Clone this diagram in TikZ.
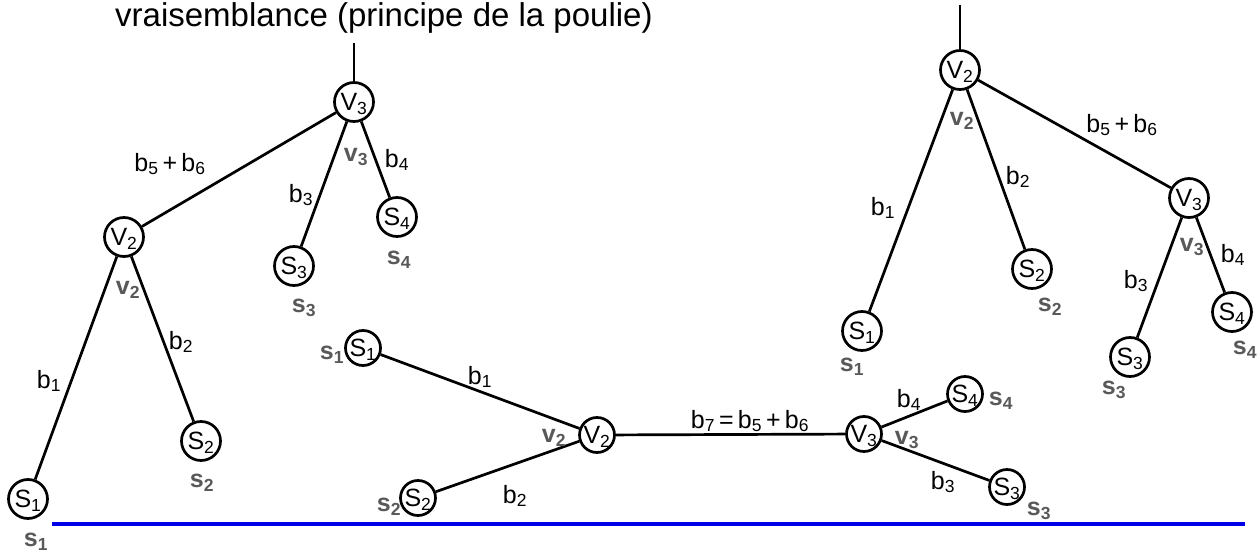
\documentclass[tikz,border=0pt]{standalone}
\usepackage{fontspec}
\setmainfont{Liberation Sans}
\definecolor{lblgray}{RGB}{89,89,89}
\definecolor{rulblue}{RGB}{0,0,230}

\begin{document}
\begin{tikzpicture}[x=1pt, y=-1pt,
        vertex/.style={circle, draw, line width=2.7pt, minimum size=39pt,
                       inner sep=0pt, text depth=0pt, font=\fontsize{25}{30}\selectfont},
        lowvx/.style={vertex, minimum size=35pt},
        br/.style={line width=2.7pt},
        blbl/.style={inner sep=0pt, font=\fontsize{25}{30}\selectfont},
        glbl/.style={inner sep=0pt, text=lblgray, font=\fontsize{25}{30}\selectfont\bfseries}]
        \useasboundingbox (0,0) rectangle (1258,553);
        \node[anchor=base west, inner sep=0pt, font=\fontsize{33}{40}\selectfont] (title) at (115,27)
            {vraisemblance (principe de la poulie)};

        % left tree, rooted on V3
        \coordinate (atop) at (354,43);
        \node[vertex] (av3) at (354,102) {V\textsubscript{3}};
        \node[vertex] (av2) at (124,237) {V\textsubscript{2}};
        \node[vertex] (as3) at (294,266) {S\textsubscript{3}};
        \node[vertex] (as4) at (397,217) {S\textsubscript{4}};
        \node[vertex] (as1) at (28,499)  {S\textsubscript{1}};
        \node[vertex] (as2) at (201,441) {S\textsubscript{2}};
        \draw[br] (atop) -- (av3);
        \draw[br] (av3) -- (av2);
        \draw[br] (av3) -- (as3);
        \draw[br] (av3) -- (as4);
        \draw[br] (av2) -- (as1);
        \draw[br] (av2) -- (as2);
        \node[blbl] (ab56) at (170,164) {b\textsubscript{5}\,+\,b\textsubscript{6}};
        \node[blbl] (ab4)  at (397,160) {b\textsubscript{4}};
        \node[blbl] (ab3)  at (301,195) {b\textsubscript{3}};
        \node[blbl] (ab1)  at (49,381)  {b\textsubscript{1}};
        \node[blbl] (ab2)  at (181,342) {b\textsubscript{2}};
        \node[glbl] (alv3) at (356,157) {v\textsubscript{3}};
        \node[glbl] (alv2) at (128,290) {v\textsubscript{2}};
        \node[glbl] (als4) at (399,260) {s\textsubscript{4}};
        \node[glbl] (als3) at (304,308) {s\textsubscript{3}};
        \node[glbl] (als2) at (202,483) {s\textsubscript{2}};
        \node[glbl] (als1) at (36,542)  {s\textsubscript{1}};

        % right tree, rooted on V2
        \coordinate (btop) at (960,5);
        \node[vertex] (bv2) at (960,70)   {V\textsubscript{2}};
        \node[vertex] (bv3) at (1189,198) {V\textsubscript{3}};
        \node[vertex] (bs1) at (862,331)  {S\textsubscript{1}};
        \node[vertex] (bs2) at (1032,269) {S\textsubscript{2}};
        \node[vertex] (bs3) at (1130,357) {S\textsubscript{3}};
        \node[vertex] (bs4) at (1232,312) {S\textsubscript{4}};
        \draw[br] (btop) -- (bv2);
        \draw[br] (bv2) -- (bs1);
        \draw[br] (bv2) -- (bs2);
        \draw[br] (bv2) -- (bv3);
        \draw[br] (bv3) -- (bs3);
        \draw[br] (bv3) -- (bs4);
        \node[blbl] (bb56) at (1122,125) {b\textsubscript{5}\,+\,b\textsubscript{6}};
        \node[blbl] (bb1)  at (883,208)  {b\textsubscript{1}};
        \node[blbl] (bb2)  at (1018,177) {b\textsubscript{2}};
        \node[blbl] (bb3)  at (1136,281) {b\textsubscript{3}};
        \node[blbl] (bb4)  at (1233,255) {b\textsubscript{4}};
        \node[glbl] (blv2) at (962,121)  {v\textsubscript{2}};
        \node[glbl] (blv3) at (1192,247) {v\textsubscript{3}};
        \node[glbl] (bls1) at (852,367)  {s\textsubscript{1}};
        \node[glbl] (bls2) at (1050,307) {s\textsubscript{2}};
        \node[glbl] (bls3) at (1114,390) {s\textsubscript{3}};
        \node[glbl] (bls4) at (1245,350) {s\textsubscript{4}};

        % unrooted tree
        \node[lowvx] (cs1) at (363,348)  {S\textsubscript{1}};
        \node[lowvx] (cs2) at (418,498)  {S\textsubscript{2}};
        \node[lowvx] (cv2) at (597,435)  {V\textsubscript{2}};
        \node[lowvx] (cv3) at (864,434)  {V\textsubscript{3}};
        \node[lowvx] (cs4) at (965,394)  {S\textsubscript{4}};
        \node[lowvx] (cs3) at (1007,487) {S\textsubscript{3}};
        \draw[br] (cs1) -- (cv2);
        \draw[br] (cs2) -- (cv2);
        \draw[br] (cv2) -- (cv3);
        \draw[br] (cv3) -- (cs4);
        \draw[br] (cv3) -- (cs3);
        \node[blbl] (cb1) at (480,377) {b\textsubscript{1}};
        \node[blbl] (cb2) at (515,496) {b\textsubscript{2}};
        \node[blbl] (cb7) at (750,421) {b\textsubscript{7}\,=\,b\textsubscript{5}\,+\,b\textsubscript{6}};
        \node[blbl] (cb4) at (909,400) {b\textsubscript{4}};
        \node[blbl] (cb3) at (943,482) {b\textsubscript{3}};
        \node[glbl] (cls1) at (332,355)  {s\textsubscript{1}};
        \node[glbl] (cls2) at (389,507)  {s\textsubscript{2}};
        \node[glbl] (clv2) at (554,438)  {v\textsubscript{2}};
        \node[glbl] (clv3) at (907,440)  {v\textsubscript{3}};
        \node[glbl] (cls4) at (1001,401) {s\textsubscript{4}};
        \node[glbl] (cls3) at (1039,511) {s\textsubscript{3}};

        \coordinate (rulea) at (52,524);
        \coordinate (ruleb) at (1245,524);
        \draw[rulblue, line width=3.5pt] (rulea) -- (ruleb);
    \end{tikzpicture}
\end{document}
